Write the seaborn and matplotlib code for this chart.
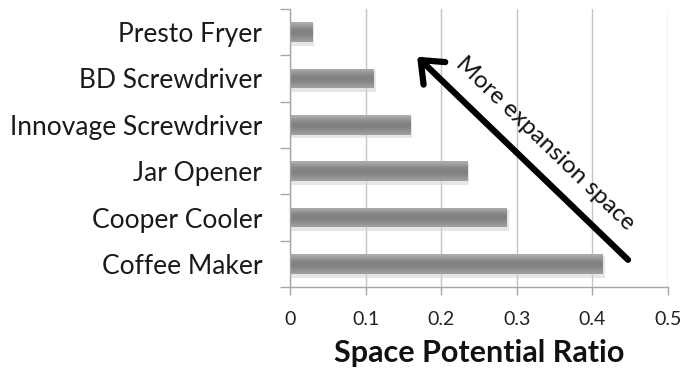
import numpy as np
import pandas as pd
import matplotlib
matplotlib.use("Agg")
import matplotlib.pyplot as plt
import seaborn as sns

products = ["Presto Fryer", "BD Screwdriver", "Innovage Screwdriver",
            "Jar Opener", "Cooper Cooler", "Coffee Maker"]
ratios = [0.030, 0.111, 0.159, 0.235, 0.287, 0.414]
xticks = [0, 0.1, 0.2, 0.3, 0.4, 0.5]
xtick_labels = ["0", "0.1", "0.2", "0.3", "0.4", "0.5"]

sns.set_theme(style="white")
plt.rcParams["font.family"] = ["Lato", "DejaVu Sans"]

df = pd.DataFrame({"product": products, "ratio": ratios})

fig = plt.figure(figsize=(6.81, 3.71), dpi=100)
ax = fig.add_axes([0.426, 0.226, 0.555, 0.750])

sns.barplot(data=df, x="ratio", y="product", orient="h", color="#8c8c8c",
            width=0.42, ax=ax, saturation=1)

ax.set_xlim(0, 0.5)
ax.set_ylim(5.5, -0.5)

# cylindrical shading for every bar, clipped to the bar's own rectangle
shade = np.array([0.68, 0.62, 0.56, 0.52, 0.50, 0.51, 0.54, 0.58, 0.62])
grad = np.repeat(shade[:, None], 2, axis=1)
for patch in list(ax.patches):
    x0, y0 = patch.get_x(), patch.get_y()
    w, h = patch.get_width(), patch.get_height()
    # faint drop shadow below the bar
    ax.add_patch(plt.Rectangle((x0, y0 + h * 0.08), w + 0.002, h * 1.12,
                               facecolor="#d6d6d6", edgecolor="none",
                               alpha=0.6, zorder=1.5))
    im = ax.imshow(grad, cmap="gray", vmin=0, vmax=1, aspect="auto",
                   extent=(x0, x0 + w, y0 + h, y0), interpolation="bicubic",
                   zorder=2.5)
    im.set_clip_path(patch)
    patch.set_facecolor("none")
    patch.set_edgecolor("none")

ax.set_xlim(0, 0.5)
ax.set_ylim(5.5, -0.5)

# axes, grid and ticks
ax.set_xticks(xticks)
ax.set_xticklabels(xtick_labels, fontsize=14, color="#222222")
ax.xaxis.grid(True, color="#c4c4c4", linewidth=1.0)
ax.set_axisbelow(True)
ax.tick_params(axis="x", which="major", bottom=True, length=6, width=1,
               color="#a6a6a6", pad=11)
ax.set_yticks(range(len(products)))
ax.set_yticklabels(products, fontsize=19, color="#1a1a1a")
ax.tick_params(axis="y", which="major", left=False, length=0, pad=20)
ax.set_yticks(np.arange(-0.5, len(products), 1.0), minor=True)
ax.tick_params(axis="y", which="minor", left=True, length=7, width=1,
               color="#a6a6a6")
for side in ["top", "right"]:
    ax.spines[side].set_visible(False)
for side in ["left", "bottom"]:
    ax.spines[side].set_color("#a6a6a6")
    ax.spines[side].set_linewidth(1.0)

ax.set_ylabel("")
ax.set_xlabel("Space Potential Ratio", fontsize=22, fontweight="bold",
              color="#111111", labelpad=8)

# direction arrow with its caption
ax.annotate("", xy=(0.168, 0.53), xytext=(0.447, 4.91),
            arrowprops=dict(arrowstyle="->,head_length=0.55,head_width=0.45",
                            lw=4.5, color="black", mutation_scale=25,
                            shrinkA=0, shrinkB=0),
            zorder=5)
ax.text(0.338, 2.40, "More expansion space", fontsize=17.5, color="#111111",
        rotation=-44, rotation_mode="anchor", ha="center", va="center",
        zorder=5)

fig.savefig("out.png", dpi=100)
